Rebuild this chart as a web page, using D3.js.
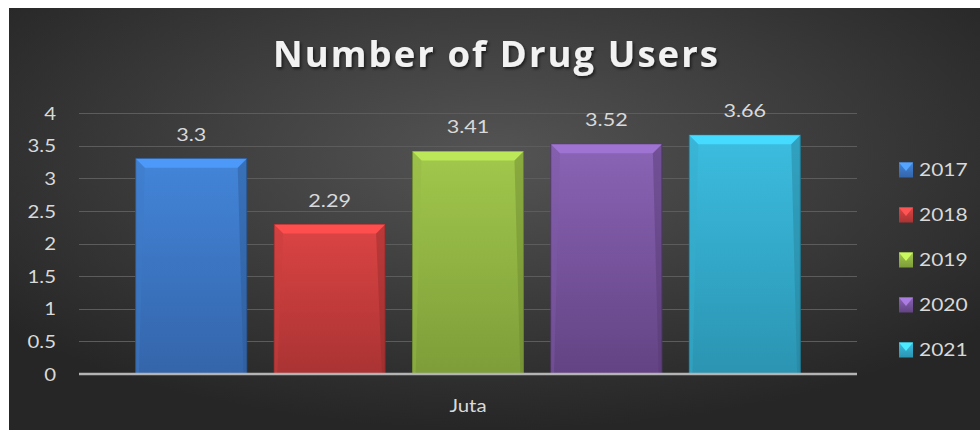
<!DOCTYPE html>
<html><head><meta charset="utf-8">
<script src="https://cdn.jsdelivr.net/npm/d3@7"></script>
<style>body{margin:0;background:#fff}svg{display:block}</style>
</head><body><svg id="c" width="980" height="430"></svg>
<script>
const title = "Number of Drug Users";
const category = "Juta";
const seriesNames = ["2017","2018","2019","2020","2021"];
const seriesValues = [3.3, 2.29, 3.41, 3.52, 3.66];
const yTicks = [0,0.5,1,1.5,2,2.5,3,3.5,4];
const colorsTop = ["#4385d9","#dc4444","#a2c84c","#8a64b6","#3cbde0"];
const colorsBot = ["#3465aa","#aa3333","#7d9d39","#634383","#2b94b2"];

const svg = d3.select("#c");
const W = 980, H = 430;
const defs = svg.append("defs");
const bg = defs.append("radialGradient").attr("id","bg").attr("cx","50%").attr("cy","35%").attr("r","65%");
bg.append("stop").attr("offset","0%").attr("stop-color","#545454");
bg.append("stop").attr("offset","100%").attr("stop-color","#262626");
svg.append("rect").attr("x",9).attr("y",8).attr("width",W-9).attr("height",H-8).attr("fill","url(#bg)");

seriesNames.forEach((s,i)=>{
  const g = defs.append("linearGradient").attr("id","g"+i).attr("x1",0).attr("y1",0).attr("x2",0).attr("y2",1);
  g.append("stop").attr("offset","0%").attr("stop-color",colorsTop[i]);
  g.append("stop").attr("offset","100%").attr("stop-color",colorsBot[i]);
});

const m = {l:79, r:857, t:113, b:374};
const y = d3.scaleLinear().domain([0,4]).range([m.b, m.t]);
const x0 = d3.scaleBand().domain([category]).range([m.l, m.r]).paddingInner(0).paddingOuter(0);
const x1 = d3.scaleBand().domain(seriesNames).range([0, x0.bandwidth()]).paddingInner(0.198).paddingOuter(0.41);

const SX = 1.2;
const txtCol = "#d9d9d9";
const font = "Lato, 'Open Sans', sans-serif";

// gridlines
svg.append("g").selectAll("line").data(yTicks.filter(d=>d>0)).join("line")
  .attr("x1",m.l).attr("x2",m.r).attr("y1",d=>Math.round(y(d))+0.5).attr("y2",d=>Math.round(y(d))+0.5)
  .attr("stroke","#5c5c5c").attr("stroke-width",1.2);

// y axis
const ax = svg.append("g").attr("transform",`translate(${m.l},0)`)
  .call(d3.axisLeft(y).tickValues(yTicks).tickSize(0).tickFormat(d=>String(d)));
ax.select(".domain").remove();
ax.selectAll("text").attr("x",-23/SX).attr("dy","0.36em").attr("transform",`scale(${SX},1)`)
  .attr("fill",txtCol).style("font-family",font).style("font-size","17px");

// bars
const bars = svg.append("g");
seriesNames.forEach((s,i)=>{
  const bx = x0(category)+x1(s), bw = x1.bandwidth(), by = y(seriesValues[i]), bh = m.b - by;
  const g = bars.append("g");
  g.append("rect").attr("x",bx).attr("y",by).attr("width",bw).attr("height",bh)
    .attr("fill","url(#g"+i+")").attr("stroke",d3.color(colorsBot[i]).darker(0.6)).attr("stroke-width",1);
  const bv = 9;
  g.append("path").attr("d",`M${bx},${by}L${bx+bw},${by}L${bx+bw-bv},${by+bv}L${bx+bv},${by+bv}Z`)
    .attr("fill",d3.color(colorsTop[i]).brighter(0.4));
  g.append("path").attr("d",`M${bx},${by}L${bx+bv},${by+bv}L${bx+bv*0.35},${m.b}L${bx},${m.b}Z`)
    .attr("fill",d3.color(colorsTop[i]).darker(0.25)).attr("opacity",0.45);
  g.append("path").attr("d",`M${bx+bw},${by}L${bx+bw-bv},${by+bv}L${bx+bw-bv*0.35},${m.b}L${bx+bw},${m.b}Z`)
    .attr("fill",d3.color(colorsBot[i]).darker(0.4)).attr("opacity",0.45);
  svg.append("text").attr("transform",`translate(${bx+bw/2},${by-18}) scale(${SX},1)`)
    .attr("text-anchor","middle").attr("fill",txtCol).style("font-family",font).style("font-size","18px")
    .text(String(seriesValues[i]));
});

// baseline
svg.append("line").attr("x1",m.l).attr("x2",m.r).attr("y1",y(0)).attr("y2",y(0))
  .attr("stroke","#b4b4b4").attr("stroke-width",2.5);

// category label
svg.append("text").attr("transform",`translate(${x0(category)+x0.bandwidth()/2},${412}) scale(${SX},1)`)
  .attr("text-anchor","middle").attr("fill",txtCol).style("font-family",font).style("font-size","17px").text(category);

// title
const tf = defs.append("filter").attr("id","sh").attr("x","-10%").attr("y","-30%").attr("width","120%").attr("height","160%");
tf.append("feDropShadow").attr("dx",1.5).attr("dy",2).attr("stdDeviation",1.5).attr("flood-color","#000").attr("flood-opacity",0.6);
svg.append("text").attr("x",273).attr("y",67).attr("textLength",447).attr("lengthAdjust","spacingAndGlyphs")
  .attr("fill","#f2f2f2").attr("filter","url(#sh)").style("font-family","'Open Sans', Lato, sans-serif").style("font-weight","bold")
  .style("font-size","35px").style("letter-spacing","2px").text(title);

// legend
const lg = svg.append("g");
seriesNames.forEach((s,i)=>{
  const cy = 170 + i*45;
  lg.append("rect").attr("x",899).attr("y",cy-7.5).attr("width",14).attr("height",15).attr("fill","url(#g"+i+")");
  lg.append("path").attr("d",`M899,${cy-7.5}L913,${cy-7.5}L906,${cy+1}Z`).attr("fill",d3.color(colorsTop[i]).brighter(0.6));
  lg.append("text").attr("transform",`translate(919,${cy}) scale(${SX},1)`).attr("dy","0.36em")
    .attr("fill",txtCol).style("font-family",font).style("font-size","17.5px").text(s);
});
</script></body></html>
